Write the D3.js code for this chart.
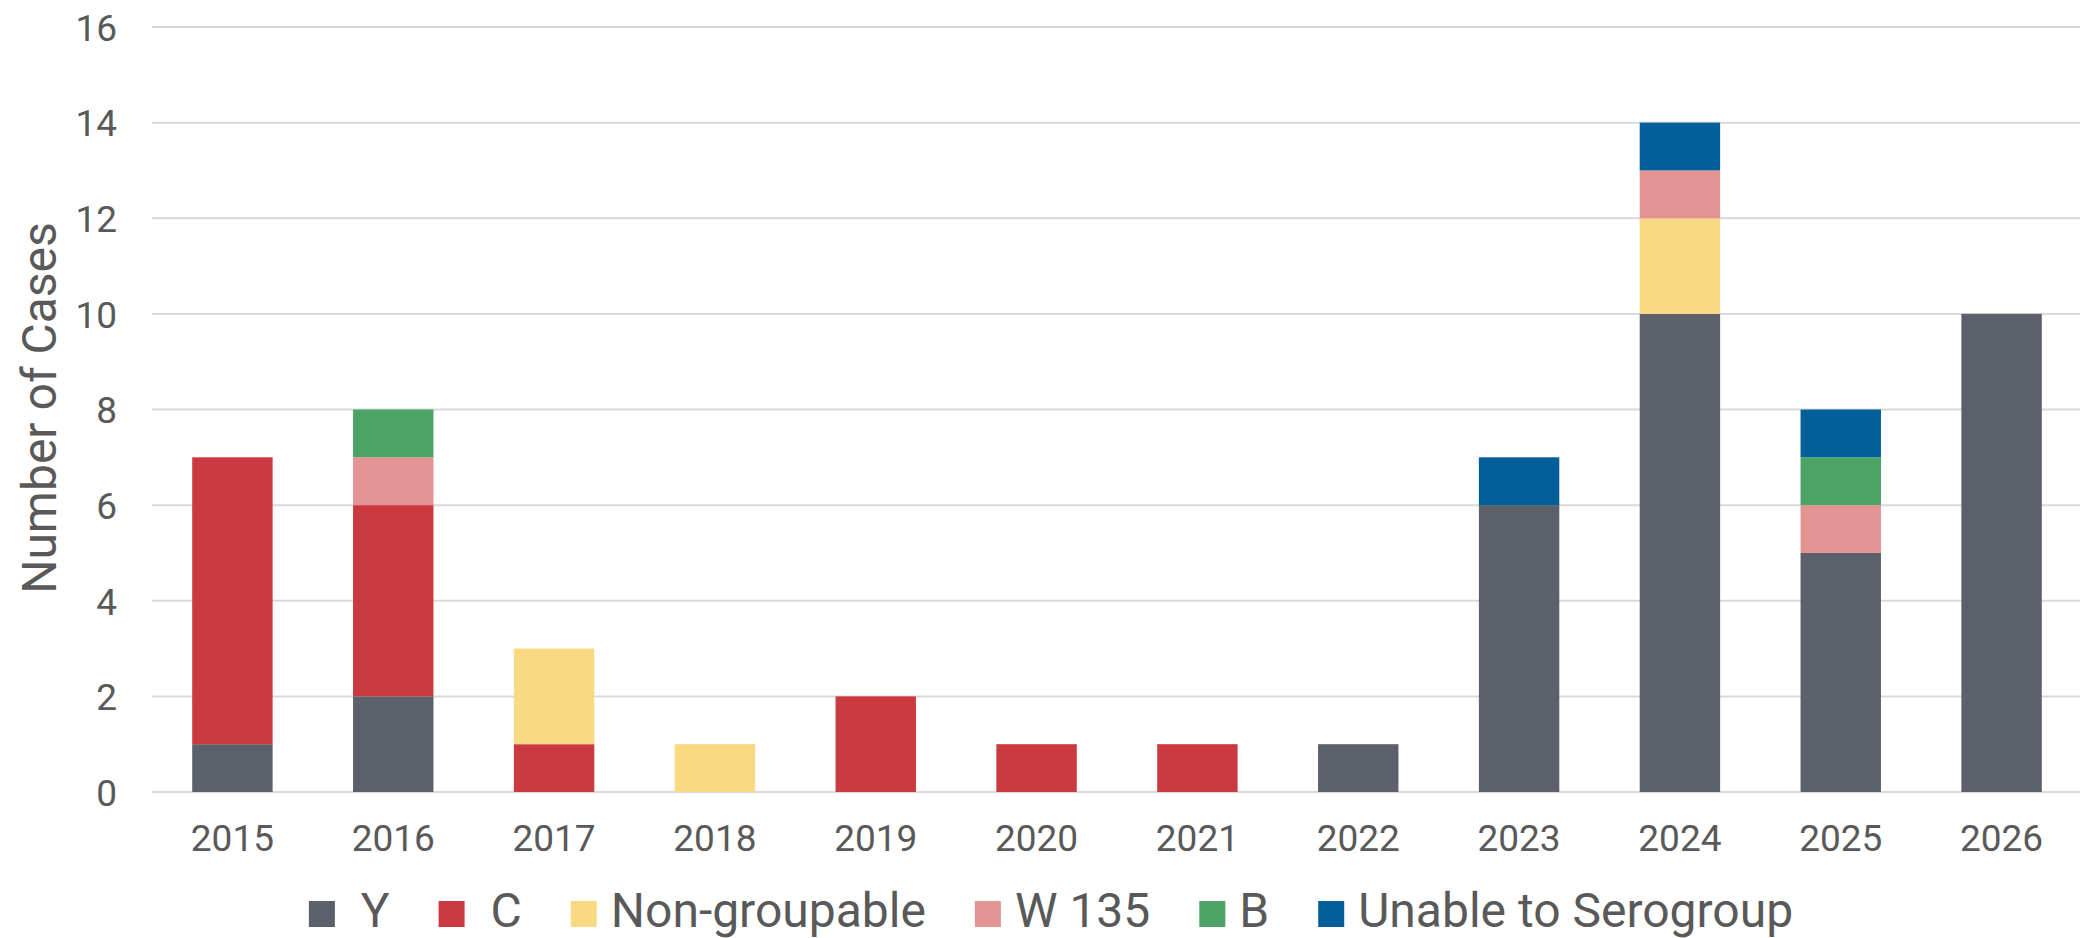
<!DOCTYPE html>
<html>
<head>
<meta charset="utf-8">
<script src="https://cdn.jsdelivr.net/npm/d3@7"></script>
<style>
  html, body { margin: 0; padding: 0; background: #ffffff; }
  svg { display: block; font-family: Roboto, "Noto Sans", sans-serif; }
</style>
</head>
<body>
<svg id="chart" width="2080" height="938"></svg>
<script>
// Meningococcal cases by serogroup and year
const years = ["2015", "2016", "2017", "2018", "2019", "2020", "2021", "2022", "2023", "2024", "2025", "2026"];
const serogroupY      = [1, 2, 0, 0, 0, 0, 0, 1, 6, 10, 5, 10];
const serogroupC      = [6, 4, 1, 0, 2, 1, 1, 0, 0, 0, 0, 0];
const nonGroupable    = [0, 0, 2, 1, 0, 0, 0, 0, 0, 2, 0, 0];
const serogroupW135   = [0, 1, 0, 0, 0, 0, 0, 0, 0, 1, 1, 0];
const serogroupB      = [0, 1, 0, 0, 0, 0, 0, 0, 0, 0, 1, 0];
const unableToGroup   = [0, 0, 0, 0, 0, 0, 0, 0, 1, 1, 1, 0];
const yTicks = [0, 2, 4, 6, 8, 10, 12, 14, 16];

const seriesDefs = [
  { key: "Y", label: " Y", values: serogroupY, color: "#5b606a" },
  { key: "C", label: " C", values: serogroupC, color: "#cb3a40" },
  { key: "NG", label: "Non-groupable", values: nonGroupable, color: "#fad983" },
  { key: "W", label: "W 135", values: serogroupW135, color: "#e49393" },
  { key: "B", label: "B", values: serogroupB, color: "#4ba465" },
  { key: "U", label: "Unable to Serogroup", values: unableToGroup, color: "#035e9a" }
];

const rows = years.map((yr, i) => {
  const r = { year: yr };
  seriesDefs.forEach(s => { r[s.key] = s.values[i]; });
  return r;
});

const svg = d3.select("#chart");
const textColor = "#595959";
const plot = { left: 152, right: 2082, top: 27, bottom: 792 };

const x = d3.scaleBand()
  .domain(years)
  .range([plot.left, plot.right])
  .paddingInner(0.5)
  .paddingOuter(0.25);

const y = d3.scaleLinear()
  .domain([0, 16])
  .range([plot.bottom, plot.top]);

// horizontal gridlines
svg.append("g")
  .selectAll("line")
  .data(yTicks)
  .join("line")
  .attr("x1", plot.left)
  .attr("x2", 2080)
  .attr("y1", d => y(d))
  .attr("y2", d => y(d))
  .attr("stroke", "#d9d9d9")
  .attr("stroke-width", 2);

// y tick labels
const yAxis = d3.axisLeft(y).tickValues(yTicks).tickSize(0).tickPadding(0);
const gy = svg.append("g")
  .attr("transform", "translate(117,0)")
  .call(yAxis);
gy.select(".domain").remove();
gy.selectAll("text")
  .attr("fill", textColor)
  .attr("font-size", 37)
  .attr("font-family", "Roboto")
  .attr("dy", "0.36em");

// stacked bars
const stack = d3.stack().keys(seriesDefs.map(s => s.key));
const layers = stack(rows);
const colorByKey = new Map(seriesDefs.map(s => [s.key, s.color]));

svg.append("g")
  .selectAll("g")
  .data(layers)
  .join("g")
  .attr("fill", d => colorByKey.get(d.key))
  .selectAll("rect")
  .data(d => d.filter(p => p[1] > p[0]))
  .join("rect")
  .attr("x", d => x(d.data.year))
  .attr("width", x.bandwidth())
  .attr("y", d => y(d[1]))
  .attr("height", d => y(d[0]) - y(d[1]));

// x axis labels
const xAxis = d3.axisBottom(x).tickSize(0).tickPadding(0);
const gx = svg.append("g")
  .attr("transform", "translate(0,851)")
  .call(xAxis);
gx.select(".domain").remove();
gx.selectAll("text")
  .attr("fill", textColor)
  .attr("font-size", 37)
  .attr("font-family", "Roboto")
  .attr("dy", 0);

// y axis title
svg.append("text")
  .attr("transform", "translate(56,408) rotate(-90)")
  .attr("text-anchor", "middle")
  .attr("fill", textColor)
  .attr("font-size", 48)
  .text("Number of Cases");

// legend
const legend = svg.append("g");
const sw = 26, swGap = 14, itemGap = 49;
let cursor = 0;
seriesDefs.forEach(s => {
  const item = legend.append("g").attr("transform", `translate(${cursor},0)`);
  item.append("rect")
    .attr("x", 0).attr("y", 901)
    .attr("width", sw).attr("height", sw)
    .attr("fill", s.color);
  const t = item.append("text")
    .attr("x", sw + swGap)
    .attr("y", 927)
    .attr("fill", textColor)
    .attr("font-size", 48)
    .style("white-space", "pre")
    .text(s.label);
  cursor += sw + swGap + t.node().getComputedTextLength() + itemGap;
});
const legendWidth = cursor - itemGap;
legend.attr("transform", `translate(${1051 - legendWidth / 2},0)`);
</script>
</body>
</html>
